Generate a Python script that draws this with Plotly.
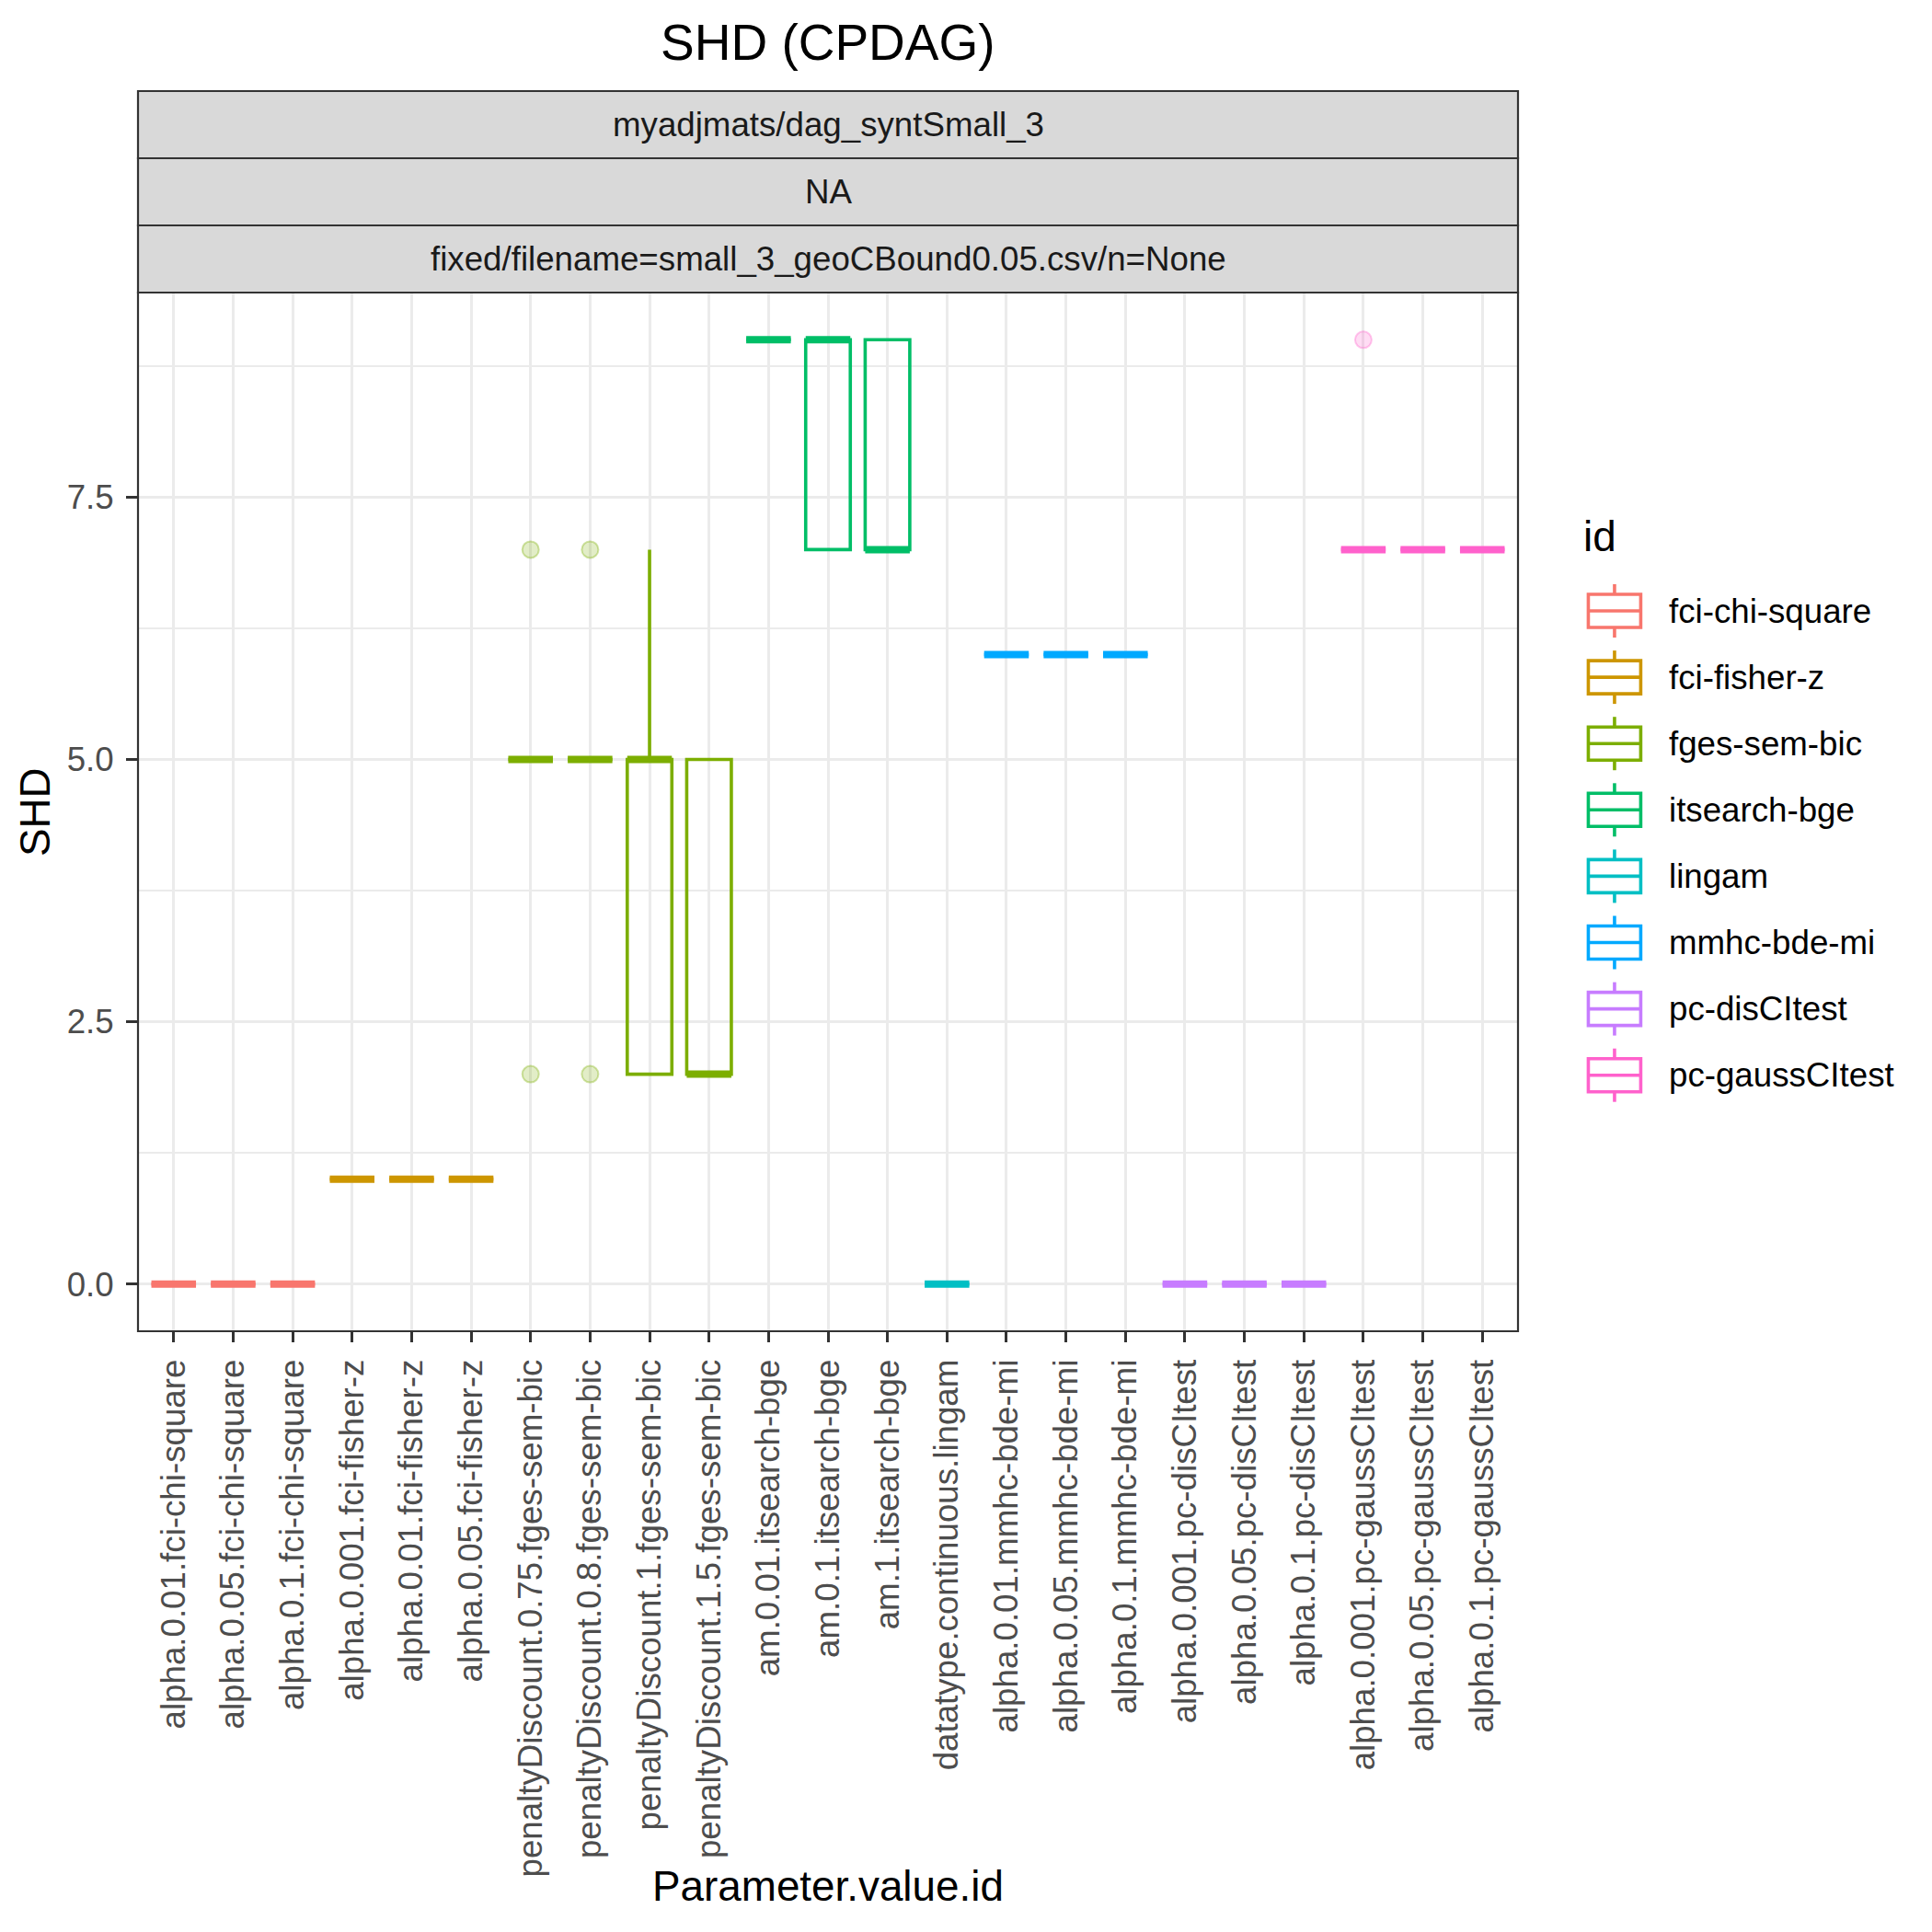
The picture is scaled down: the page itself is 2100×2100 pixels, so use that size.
import plotly.graph_objects as go

# ---------------- data ----------------
categories = [
    "alpha.0.01.fci-chi-square", "alpha.0.05.fci-chi-square", "alpha.0.1.fci-chi-square",
    "alpha.0.001.fci-fisher-z", "alpha.0.01.fci-fisher-z", "alpha.0.05.fci-fisher-z",
    "penaltyDiscount.0.75.fges-sem-bic", "penaltyDiscount.0.8.fges-sem-bic",
    "penaltyDiscount.1.fges-sem-bic", "penaltyDiscount.1.5.fges-sem-bic",
    "am.0.01.itsearch-bge", "am.0.1.itsearch-bge", "am.1.itsearch-bge",
    "datatype.continuous.lingam",
    "alpha.0.01.mmhc-bde-mi", "alpha.0.05.mmhc-bde-mi", "alpha.0.1.mmhc-bde-mi",
    "alpha.0.001.pc-disCItest", "alpha.0.05.pc-disCItest", "alpha.0.1.pc-disCItest",
    "alpha.0.001.pc-gaussCItest", "alpha.0.05.pc-gaussCItest", "alpha.0.1.pc-gaussCItest",
]
category_id = (["fci-chi-square"] * 3 + ["fci-fisher-z"] * 3 + ["fges-sem-bic"] * 4 +
               ["itsearch-bge"] * 3 + ["lingam"] + ["mmhc-bde-mi"] * 3 +
               ["pc-disCItest"] * 3 + ["pc-gaussCItest"] * 3)
q1 =     [0, 0, 0, 1, 1, 1, 5, 5, 2, 2, 9, 7, 7, 0, 6, 6, 6, 0, 0, 0, 7, 7, 7]
median = [0, 0, 0, 1, 1, 1, 5, 5, 5, 2, 9, 9, 7, 0, 6, 6, 6, 0, 0, 0, 7, 7, 7]
q3 =     [0, 0, 0, 1, 1, 1, 5, 5, 5, 5, 9, 9, 9, 0, 6, 6, 6, 0, 0, 0, 7, 7, 7]
lower =  [0, 0, 0, 1, 1, 1, 5, 5, 2, 2, 9, 7, 7, 0, 6, 6, 6, 0, 0, 0, 7, 7, 7]
upper =  [0, 0, 0, 1, 1, 1, 5, 5, 7, 5, 9, 9, 9, 0, 6, 6, 6, 0, 0, 0, 7, 7, 7]

outlier_cat = ["penaltyDiscount.0.75.fges-sem-bic", "penaltyDiscount.0.75.fges-sem-bic",
               "penaltyDiscount.0.8.fges-sem-bic", "penaltyDiscount.0.8.fges-sem-bic",
               "alpha.0.001.pc-gaussCItest"]
outlier_val = [7, 2, 7, 2, 9]

ids = ["fci-chi-square", "fci-fisher-z", "fges-sem-bic", "itsearch-bge",
       "lingam", "mmhc-bde-mi", "pc-disCItest", "pc-gaussCItest"]
colors = ["#F8766D", "#CD9600", "#7CAE00", "#00BE67",
          "#00BFC4", "#00A9FF", "#C77CFF", "#FF61CC"]

y_ticks = [0, 2.5, 5, 7.5]
y_ticktext = ["0.0", "2.5", "5.0", "7.5"]
strip_labels = ["myadjmats/dag_syntSmall_3", "NA",
                "fixed/filename=small_3_geoCBound0.05.csv/n=None"]

# ---------------- geometry (pixels, in page coordinates) ----------------
O = 8                      # default body margin of the html page
W = H = 2100 - 2 * O
L, R, T, B = 149.5, 1650.5, 318, 1447
BOX_W = 0.75
FONT = "Liberation Sans, Arial, Helvetica, sans-serif"


def px_x(p):
    return (p - L) / (R - L)


def px_y(p):
    return (B - p) / (B - T)


def rgba(hexc, a):
    h = hexc.lstrip("#")
    return "rgba(%d,%d,%d,%.3f)" % (int(h[0:2], 16), int(h[2:4], 16), int(h[4:6], 16), a)


pos = {c: i + 1 for i, c in enumerate(categories)}
col = dict(zip(ids, colors))

fig = go.Figure()

for gid in ids:
    idx = [i for i, c in enumerate(category_id) if c == gid]
    xs = [pos[categories[i]] for i in idx]
    fig.add_trace(go.Box(
        x=xs,
        q1=[q1[i] for i in idx], median=[median[i] for i in idx],
        q3=[q3[i] for i in idx], lowerfence=[lower[i] for i in idx],
        upperfence=[upper[i] for i in idx],
        width=BOX_W, whiskerwidth=0, boxpoints=False,
        line=dict(color=col[gid], width=3.6), fillcolor="rgba(0,0,0,0)",
        name=gid, showlegend=False, hoverinfo="skip",
    ))
    # thick median segment (ggplot fatten)
    mx, my = [], []
    for i in idx:
        p = pos[categories[i]]
        mx += [p - BOX_W / 2, p + BOX_W / 2, None]
        my += [median[i], median[i], None]
    fig.add_trace(go.Scatter(x=mx, y=my, mode="lines",
                             line=dict(color=col[gid], width=8),
                             showlegend=False, hoverinfo="skip"))

# outliers
for c, v in zip(outlier_cat, outlier_val):
    gid = category_id[categories.index(c)]
    fig.add_trace(go.Scatter(
        x=[pos[c]], y=[v], mode="markers",
        marker=dict(size=18, color=rgba(col[gid], 0.22),
                    line=dict(color=rgba(col[gid], 0.35), width=2)),
        showlegend=False, hoverinfo="skip"))

shapes = []
annotations = []

# panel border
shapes.append(dict(type="rect", xref="paper", yref="paper", x0=0, x1=1, y0=0, y1=1,
                   line=dict(color="#333333", width=2.2), fillcolor="rgba(0,0,0,0)",
                   layer="above"))

# strips
strip_edges = [99, 172, 245, 318]
for k, lab in enumerate(strip_labels):
    y_top, y_bot = strip_edges[k], strip_edges[k + 1]
    shapes.append(dict(type="rect", xref="paper", yref="paper",
                       x0=0, x1=1, y0=px_y(y_bot), y1=px_y(y_top),
                       fillcolor="#D9D9D9", line=dict(color="#333333", width=2.2)))
    annotations.append(dict(text=lab, xref="paper", yref="paper", x=0.5,
                            y=px_y((y_top + y_bot) / 2), xanchor="center", yanchor="middle",
                            showarrow=False, font=dict(family=FONT, size=36.7, color="#1A1A1A")))

# title and axis titles
annotations.append(dict(text="SHD (CPDAG)", xref="paper", yref="paper", x=px_x(900),
                        y=px_y(46), xanchor="center", yanchor="middle", showarrow=False,
                        font=dict(family=FONT, size=55, color="black")))
annotations.append(dict(text="Parameter.value.id", xref="paper", yref="paper", x=0.5,
                        y=px_y(2050), xanchor="center", yanchor="middle", showarrow=False,
                        font=dict(family=FONT, size=45.8, color="black")))
annotations.append(dict(text="SHD", xref="paper", yref="paper", x=px_x(38),
                        y=0.5, xanchor="center", yanchor="middle", showarrow=False,
                        textangle=-90, font=dict(family=FONT, size=45.8, color="black")))

# legend (ggplot-style boxplot keys)
annotations.append(dict(text="id", xref="paper", yref="paper", x=px_x(1720),
                        y=px_y(583), xanchor="left", yanchor="middle", showarrow=False,
                        font=dict(family=FONT, size=45.8, color="black")))
kx0, kx1 = 1727, 1784
kxc = (kx0 + kx1) / 2
for i, (gid, c) in enumerate(zip(ids, colors)):
    yc = 664 + 72.1 * i
    shapes.append(dict(type="rect", xref="paper", yref="paper",
                       x0=px_x(kx0), x1=px_x(kx1), y0=px_y(yc + 18), y1=px_y(yc - 18),
                       line=dict(color=c, width=3.6), fillcolor="white"))
    shapes.append(dict(type="line", xref="paper", yref="paper",
                       x0=px_x(kx0), x1=px_x(kx1), y0=px_y(yc), y1=px_y(yc),
                       line=dict(color=c, width=3.6)))
    shapes.append(dict(type="line", xref="paper", yref="paper",
                       x0=px_x(kxc), x1=px_x(kxc), y0=px_y(yc - 18), y1=px_y(yc - 29),
                       line=dict(color=c, width=3.6)))
    shapes.append(dict(type="line", xref="paper", yref="paper",
                       x0=px_x(kxc), x1=px_x(kxc), y0=px_y(yc + 18), y1=px_y(yc + 29),
                       line=dict(color=c, width=3.6)))
    annotations.append(dict(text=gid, xref="paper", yref="paper", x=px_x(1813),
                            y=px_y(yc), xanchor="left", yanchor="middle", showarrow=False,
                            font=dict(family=FONT, size=36.7, color="black")))

n = len(categories)
fig.update_layout(
    width=W, height=H, autosize=False,
    margin=dict(l=L - O, r=W - (R - O), t=T - O, b=H - (B - O), pad=0),
    paper_bgcolor="white", plot_bgcolor="white",
    showlegend=False, boxmode="overlay",
    shapes=shapes, annotations=annotations,
    font=dict(family=FONT),
    xaxis=dict(
        range=[0.4, n + 0.6], tickmode="array",
        tickvals=[pos[c] for c in categories], ticktext=categories,
        tickangle=-90, ticks="outside", ticklen=11, tickwidth=3.4, tickcolor="#333333",
        tickfont=dict(family=FONT, size=36.7, color="#4D4D4D"),
        showgrid=True, gridcolor="#EBEBEB", gridwidth=3.2,
        zeroline=False, showline=False, ticklabelstandoff=4,
    ),
    yaxis=dict(
        range=[-0.45, 9.45], tickmode="array", tickvals=y_ticks, ticktext=y_ticktext,
        ticks="outside", ticklen=12, tickwidth=3.4, tickcolor="#333333",
        tickfont=dict(family=FONT, size=36.7, color="#4D4D4D"),
        showgrid=True, gridcolor="#EBEBEB", gridwidth=3.2,
        minor=dict(tickmode="array", tickvals=[1.25, 3.75, 6.25, 8.75], showgrid=True,
                   gridcolor="#EBEBEB", gridwidth=1.6, ticks=""),
        zeroline=False, showline=False, ticklabelstandoff=6,
    ),
)

fig.write_html("out.html")
